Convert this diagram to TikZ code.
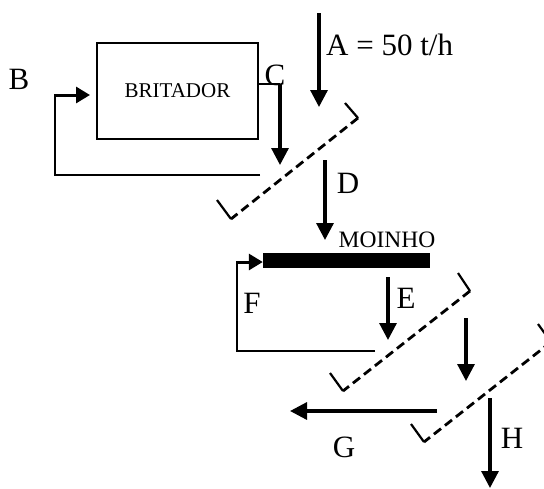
\documentclass[tikz,border=0pt]{standalone}
\usepackage{fontspec}
\setmainfont{Liberation Serif}
\usetikzlibrary{arrows.meta}
\tikzset{
  frame/.style={line width=1.8pt},
  flow/.style={line width=3.2pt,-{Triangle[length=17pt,width=17pt]}},
  smallflow/.style={line width=3pt,-{Triangle[length=14pt,width=16pt]}},
  screen/.style={line width=2.8pt,dash pattern=on 9pt off 5pt},
  tick/.style={line width=2.2pt},
  lbl/.style={inner sep=0pt,anchor=base,font=\fontsize{31}{35}\selectfont},
}
\begin{document}
\begin{tikzpicture}[x=1pt,y=-1pt]
\useasboundingbox (0,0) rectangle (544,488);
\clip (0,0) rectangle (544,488);
% units
\node[draw,line width=2pt,minimum width=161pt,minimum height=96pt,inner sep=0pt,
      font=\fontsize{21}{24}\selectfont] (brit) at (177.5,91) {BRITADOR};
\node[fill=black,minimum width=167pt,minimum height=15pt,inner sep=0pt] (bar) at (346.5,260.5) {};
\node[inner sep=0pt,anchor=base,font=\fontsize{23.5}{26}\selectfont] (moinho) at (387,247) {MOINHO};
% labels
\node[lbl] (lB) at (19,89) {B};
\node[lbl] (lC) at (275,85) {C};
\node[lbl,anchor=base west] (lA) at (326,55) {A = 50 t/h};
\node[lbl] (lD) at (348,193) {D};
\node[lbl] (lF) at (252,313) {F};
\node[lbl] (lE) at (406,308) {E};
\node[lbl] (lG) at (344,457) {G};
\node[lbl] (lH) at (512,448) {H};
% coordinates
\coordinate (a0) at (319,13);   \coordinate (a1) at (319,107);
\coordinate (c0) at (280,84);   \coordinate (c1) at (280,165);
\coordinate (b0) at (260,175);  \coordinate (b1) at (55,95);
\coordinate (d0) at (325,160);  \coordinate (d1) at (325,240);
\coordinate (f0) at (375,351);  \coordinate (f1) at (237,262);
\coordinate (e0) at (388,277);  \coordinate (e1) at (388,340);
\coordinate (m0) at (466,318);  \coordinate (m1) at (466,381);
\coordinate (g0) at (437,411);  \coordinate (g1) at (290,411);
\coordinate (h0) at (490,398);  \coordinate (h1) at (490,488);
% screens
\coordinate (s1t) at (345,103); \coordinate (s1a) at (358,118); \coordinate (s1b) at (231,219); \coordinate (s1u) at (217,200);
\coordinate (s2t) at (458,273); \coordinate (s2a) at (470,291); \coordinate (s2b) at (343,391); \coordinate (s2u) at (330,373);
\coordinate (s3t) at (538,324); \coordinate (s3a) at (551,342); \coordinate (s3b) at (424,442); \coordinate (s3u) at (411,424);
\foreach \s in {s1,s2,s3}{
  \draw[tick] (\s t) -- (\s a);
  \draw[screen] (\s a) -- (\s b);
  \draw[tick] (\s u) -- (\s b);
}
% flows
\draw[flow] (a0) -- (a1);
\draw[frame] (brit.east |- c0) -- (c0);
\draw[flow] (c0) -- (c1);
\draw[frame] (b0) -| (b1);
\draw[smallflow] ([xshift=-0.9pt]b1) -- ([xshift=-6pt]brit.west |- b1);
\draw[flow] (d0) -- (d1);
\draw[frame] (f0) -| (f1);
\draw[smallflow] ([xshift=-0.9pt]f1) -- (bar.west |- f1);
\draw[flow] (e0) -- (e1);
\draw[flow] (m0) -- (m1);
\draw[flow] (g0) -- (g1);
\draw[flow] (h0) -- (h1);
\end{tikzpicture}
\end{document}
